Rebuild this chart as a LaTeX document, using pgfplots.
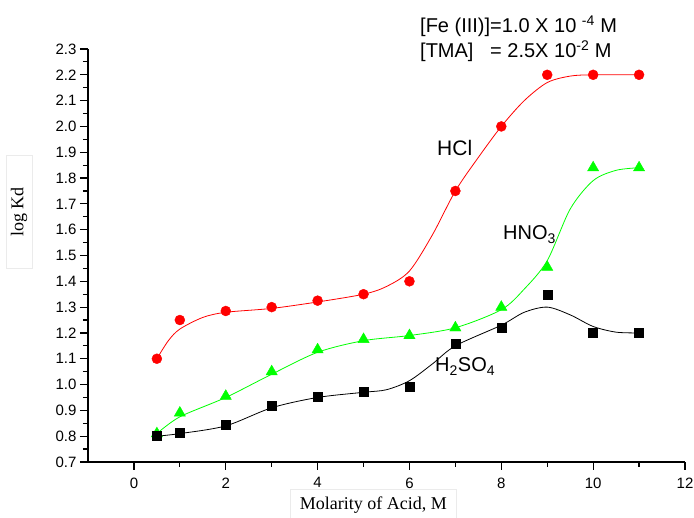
\documentclass[border=0pt]{standalone}
\usepackage{pgfplots}
\pgfplotsset{compat=1.18}
\usepackage{fontspec}
\setmainfont{Liberation Sans}
\newfontfamily\serifface{Liberation Serif}
\definecolor{pgreen}{RGB}{0,255,0}
\definecolor{pred}{RGB}{255,0,0}
\begin{document}
\begin{tikzpicture}
\useasboundingbox (-88pt,-56pt) rectangle (606pt,462pt);
\begin{axis}[
  scale only axis, width=597pt, height=413pt,
  xmin=-1, xmax=12, ymin=0.7, ymax=2.3,
  axis x line=bottom, axis y line=left,
  axis line style={-, line width=1.4pt},
  tick align=outside,
  major tick length=8pt, minor tick length=5pt,
  every tick/.style={black, line width=1.2pt},
  xtick={0,2,...,12}, minor x tick num=1,
  ytick={0.7,0.8,...,2.31}, minor y tick num=1,
  yticklabel style={/pgf/number format/.cd, fixed, fixed zerofill, precision=1},
  /pgf/number format/assume math mode=true,
  tick label style={font=\fontsize{15}{15}\selectfont},
  xticklabel style={yshift=-4pt},
  clip=false,
]
% HCl
\addplot[pred, line width=0.8pt, smooth, tension=0.5] coordinates {
(0.5,1.10)(0.75,1.17)(1,1.215)(1.5,1.26)(2,1.28)(3,1.295)(4,1.32)(5,1.35)(5.5,1.38)(6,1.44)(6.5,1.58)(7,1.75)(7.5,1.88)(8,2.00)(8.5,2.10)(9,2.17)(9.5,2.195)(10,2.20)(11,2.20)};
\addplot[only marks, mark=*, mark size=5pt, color=pred] coordinates {
(0.5,1.10)(1,1.25)(2,1.285)(3,1.30)(4,1.325)(5,1.35)(6,1.40)(7,1.75)(8,2.00)(9,2.20)(10,2.20)(11,2.20)};
% HNO3
\addplot[pgreen, line width=0.8pt, smooth, tension=0.5] coordinates {
(0.5,0.81)(1,0.875)(2,0.95)(3,1.04)(4,1.125)(5,1.17)(6,1.19)(7,1.22)(8,1.29)(8.5,1.37)(9,1.48)(9.5,1.68)(10,1.79)(10.5,1.83)(11,1.84)};
\addplot[only marks, mark=triangle*, mark size=6.5pt, color=pgreen] coordinates {
(0.5,0.81)(1,0.89)(2,0.955)(3,1.05)(4,1.135)(5,1.175)(6,1.19)(7,1.22)(8,1.30)(9,1.455)(10,1.84)(11,1.84)};
% H2SO4
\addplot[black, line width=0.8pt, smooth, tension=0.5] coordinates {
(0.5,0.80)(1,0.81)(2,0.84)(3,0.91)(4,0.95)(5,0.97)(5.5,0.98)(6,1.015)(6.5,1.08)(7,1.15)(8,1.23)(8.5,1.28)(9,1.30)(9.5,1.27)(10,1.225)(10.5,1.203)(11,1.20)};
\addplot[only marks, mark=square*, mark size=4.5pt, color=black] coordinates {
(0.5,0.80)(1,0.815)(2,0.845)(3,0.92)(4,0.952)(5,0.972)(6,0.99)(7,1.16)(8,1.22)(9,1.35)(10,1.20)(11,1.20)};
\end{axis}
% annotations
\node[anchor=base west, inner sep=0pt, font=\fontsize{20}{20}\selectfont] at (332pt,429pt) {[Fe (III)]=1.0 X 10 \textsuperscript{-4} M};
\node[anchor=base west, inner sep=0pt, font=\fontsize{20}{20}\selectfont] at (332pt,404pt) {[TMA]\ \ \ = 2.5X 10\textsuperscript{-2} M};
\node[anchor=base west, inner sep=0pt, font=\fontsize{21}{21}\selectfont] at (349pt,306pt) {HCl};
\node[anchor=base west, inner sep=0pt, font=\fontsize{20}{20}\selectfont] at (415pt,222pt) {HNO\textsubscript{3}};
\node[anchor=base west, inner sep=0pt, font=\fontsize{20}{20}\selectfont] at (347pt,90pt) {H\textsubscript{2}SO\textsubscript{4}};
% axis labels
\node[draw=black!8, line width=0.6pt, rotate=90, minimum width=113pt, minimum height=26pt, inner sep=0pt, font=\serifface\fontsize{18}{18}\selectfont] at (-69pt,250pt) {log Kd};
\node[draw=black!8, line width=0.6pt, anchor=north west, minimum width=166pt, minimum height=32pt, inner sep=0pt, font=\serifface\fontsize{18}{18}\selectfont] at (202pt,-27pt) {Molarity of Acid, M};
\end{tikzpicture}
\end{document}
